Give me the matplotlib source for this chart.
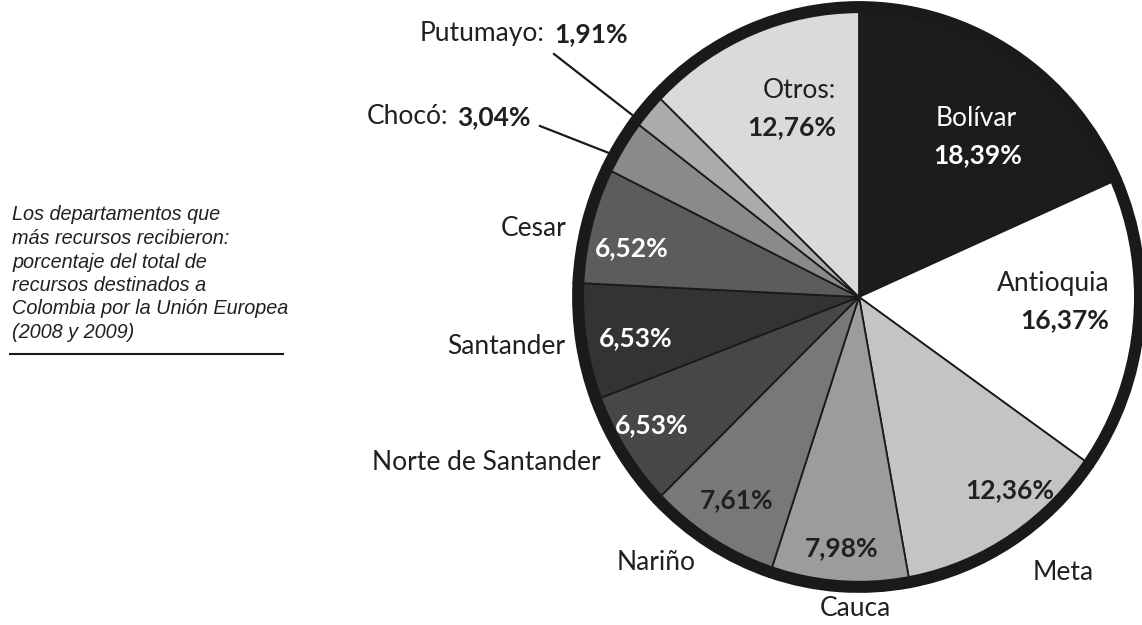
#!/usr/bin/env python3
"""
Pie chart: departamentos que más recursos recibieron de la Unión Europea (2008 y 2009)
"""

import matplotlib
matplotlib.use("Agg")
import matplotlib.pyplot as plt
from matplotlib.patches import Circle

# --- data (clockwise from the top) ---
departamentos = ["Bolívar", "Antioquia", "Meta", "Cauca", "Nariño",
                 "Norte de Santander", "Santander", "Cesar", "Chocó",
                 "Putumayo", "Otros"]
porcentajes = [18.39, 16.37, 12.36, 7.98, 7.61, 6.53, 6.53, 6.52, 3.04, 1.91, 12.76]
grises = ["#1c1c1c", "#ffffff", "#c4c4c4", "#9c9c9c", "#787878",
          "#474747", "#333333", "#5c5c5c", "#8a8a8a", "#ababab", "#dadada"]

caption = ["Los departamentos que",
           "más recursos recibieron:",
           "porcentaje del total de",
           "recursos destinados a",
           "Colombia por la Unión Europea",
           "(2008 y 2009)"]

W, H = 1142, 625
FONT = "Lato"
DARK = "#231f20"


def fmt(v):
    return f"{v:.2f}".replace(".", ",") + "%"


def main():
    fig = plt.figure(figsize=(W / 100, H / 100), dpi=100)

    # pixel-space background axes for labels and lines
    bg = fig.add_axes([0, 0, 1, 1])
    bg.set_xlim(0, W)
    bg.set_ylim(H, 0)
    bg.axis("off")

    # pie axes, placed by its pixel box (slightly narrower than tall)
    cx, cy, rx, ry = 859, 297, 286, 295
    ax = fig.add_axes([(cx - rx) / W, (H - (cy + ry)) / H, 2 * rx / W, 2 * ry / H])
    ax.pie(porcentajes, colors=grises, startangle=90, counterclock=False,
           radius=1.0, wedgeprops=dict(edgecolor="#1a1a1a", linewidth=1.3))
    ax.add_patch(Circle((0, 0), 0.981, fill=False, ec="#1a1a1a", lw=8, zorder=5))
    ax.set_xlim(-1, 1)
    ax.set_ylim(-1, 1)
    ax.set_aspect("auto")
    ax.axis("off")
    ax.set_zorder(1)
    bg.set_zorder(2)
    bg.patch.set_alpha(0)

    vals = dict(zip(departamentos, porcentajes))
    fs = 19

    # names outside or inside the pie: (name, x, y, ha, color)
    names = [
        ("Bolívar", 976, 118, "center", "white"),
        ("Antioquia", 1053, 284, "center", DARK),
        ("Meta", 1063, 572, "center", DARK),
        ("Cauca", 855, 608, "center", DARK),
        ("Nariño", 656, 562, "center", DARK),
        ("Norte de Santander", 601, 462, "right", DARK),
        ("Santander", 565, 347, "right", DARK),
        ("Cesar", 566, 228, "right", DARK),
    ]
    for name, x, y, ha, c in names:
        bg.text(x, y, name, ha=ha, va="center", fontsize=fs, color=c, family=FONT)

    # bold values: (name, x, y, color)
    values = [
        ("Bolívar", 978, 155, "white"),
        ("Antioquia", 1065, 320, DARK),
        ("Meta", 1010, 490, DARK),
        ("Cauca", 842, 548, DARK),
        ("Nariño", 737, 500, DARK),
        ("Norte de Santander", 652, 425, "white"),
        ("Santander", 636, 338, "white"),
        ("Cesar", 632, 248, "white"),
    ]
    for name, x, y, c in values:
        bg.text(x, y, fmt(vals[name]), ha="center", va="center", fontsize=fs,
                color=c, family=FONT, fontweight="bold")

    # Otros
    bg.text(836, 90, "Otros:", ha="right", va="center", fontsize=fs, color=DARK, family=FONT)
    bg.text(836, 127, fmt(vals["Otros"]), ha="right", va="center", fontsize=fs,
            color=DARK, family=FONT, fontweight="bold")

    # small slices with leader lines
    for name, split, y, line in [("Putumayo", 545, 34, ((554, 54), (640, 121))),
                                 ("Chocó", 448, 117, ((540, 126), (614, 155)))]:
        bg.text(split, y, name + ":", ha="right", va="center", fontsize=fs,
                color=DARK, family=FONT)
        bg.text(split + 9, y, fmt(vals[name]), ha="left", va="center", fontsize=fs,
                color=DARK, family=FONT, fontweight="bold")
        (x0, y0), (x1, y1) = line
        bg.plot([x0, x1], [y0, y1], color="#1a1a1a", lw=1.6)

    # caption
    for i, line in enumerate(caption):
        bg.text(12, 215 + i * 23.5, line, ha="left", va="center", fontsize=14.3,
                style="italic", color=DARK, family="Liberation Sans")
    bg.plot([10, 283], [354, 354], color="#1a1a1a", lw=1.5)

    fig.savefig("out.png", dpi=100)


if __name__ == "__main__":
    main()
